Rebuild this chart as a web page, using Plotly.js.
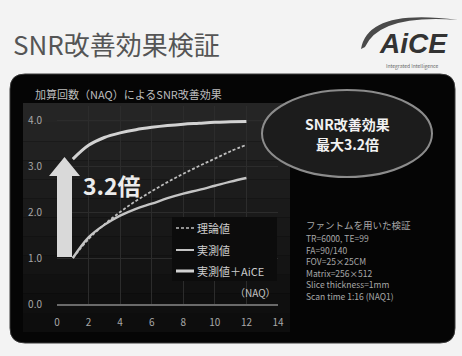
<!DOCTYPE html>
<html><head><meta charset="utf-8">
<script src="https://cdn.plot.ly/plotly-3.0.1.min.js"></script>
<style>html,body{margin:0;padding:0;background:#f3f3f3;}#chart{width:462px;height:356px;}</style>
</head><body><div id="chart"></div>
<script>
// ---- data ----
const NAQ = [1,2,3,4,5,6,7,8,9,10,11,12];
const theory = [1.0,1.41,1.73,2.0,2.24,2.45,2.65,2.83,3.0,3.16,3.32,3.46];
const measured = [1.0,1.45,1.72,1.92,2.07,2.18,2.3,2.4,2.48,2.57,2.66,2.74];
const measuredAiCE = [3.15,3.45,3.62,3.72,3.79,3.84,3.88,3.91,3.93,3.95,3.96,3.97];
const seriesNames = ['理論値','実測値','実測値＋AiCE'];
const xTicks = [0,2,4,6,8,10,12,14];
const yTicks = [0,1,2,3,4];
const titleText = 'SNR改善効果検証';
const chartSubtitle = '加算回数（NAQ）によるSNR改善効果';
const gainText = '3.2倍';
const calloutLines = ['SNR改善効果','最大3.2倍'];
const conditionLines = ['ファントムを用いた検証','TR=6000, TE=99','FA=90/140','FOV=25×25CM','Matrix=256×512','Slice thickness=1mm','Scan time 1:16 (NAQ1)'];

(function(){
const W = 462, H = 356;
const fx = x => x / W, fy = y => 1 - y / H;
const FONT = '"Noto Sans CJK JP", "Noto Sans", sans-serif';

function poly(pts){ return 'M' + pts.map(p => fx(p[0]) + ',' + fy(p[1])).join('L') + 'Z'; }
function roundRect(x0,y0,x1,y1,r){
  const p = (x,y) => fx(x)+','+fy(y);
  return 'M'+p(x0+r,y0)+'L'+p(x1-r,y0)+'Q'+p(x1,y0)+' '+p(x1,y0+r)+'L'+p(x1,y1-r)+'Q'+p(x1,y1)+' '+p(x1-r,y1)+
         'L'+p(x0+r,y1)+'Q'+p(x0,y1)+' '+p(x0,y1-r)+'L'+p(x0,y0+r)+'Q'+p(x0,y0)+' '+p(x0+r,y0)+'Z';
}

const traces = [
  {x: NAQ, y: theory, name: seriesNames[0], mode: 'lines', line: {color: '#bdbdbd', width: 1.8, dash: '3px,2px', shape: 'spline'}},
  {x: NAQ, y: measured, name: seriesNames[1], mode: 'lines', line: {color: '#c4c4c4', width: 2.4, shape: 'spline'}},
  {x: NAQ, y: measuredAiCE, name: seriesNames[2], mode: 'lines', line: {color: '#d2d2d2', width: 3, shape: 'spline'}}
];

const shapes = [];
shapes.push({type:'path', xref:'paper', yref:'paper', layer:'below', path: roundRect(10,74,455,343,15), fillcolor:'#050505', line:{color:'#3a3a3a', width:1}});
const bands = 12, bandTop = 103, bandBot = 332;
for (let i = 0; i < bands; i++){
  const v = Math.round(0x25 - i * (0x25 - 0x0d) / (bands - 1));
  const c = 'rgb(' + v + ',' + v + ',' + v + ')';
  const y0 = bandTop + (bandBot - bandTop) * i / bands, y1 = bandTop + (bandBot - bandTop) * (i + 1) / bands;
  shapes.push({type:'rect', xref:'paper', yref:'paper', layer:'below', x0: fx(23), x1: fx(290), y0: fy(y1), y1: fy(y0), fillcolor: c, line:{width:0}});
}
shapes.push({type:'rect', xref:'paper', yref:'paper', layer:'above', x0: fx(172), x1: fx(277), y0: fy(281), y1: fy(217), fillcolor:'#0c0c0c', line:{width:0}});
shapes.push({type:'line', xref:'paper', yref:'paper', x0: fx(176), x1: fx(194), y0: fy(228), y1: fy(228), line:{color:'#bdbdbd', width:1.5, dash:'3px,2px'}});
shapes.push({type:'line', xref:'paper', yref:'paper', x0: fx(176), x1: fx(194), y0: fy(250), y1: fy(250), line:{color:'#c4c4c4', width:2}});
shapes.push({type:'line', xref:'paper', yref:'paper', x0: fx(176), x1: fx(194), y0: fy(271), y1: fy(271), line:{color:'#d2d2d2', width:3}});
shapes.push({type:'path', xref:'paper', yref:'paper', layer:'above', path: poly([[57,257],[72,257],[72,176],[80,176],[64.5,157],[49,176],[57,176]]), fillcolor:'#d9d9d9', line:{width:0}});
shapes.push({type:'circle', xref:'paper', yref:'paper', x0: fx(262), x1: fx(432), y0: fy(177), y1: fy(90), fillcolor:'#1c1c1c', line:{color:'#8c8c8c', width:2}});
shapes.push({type:'path', xref:'paper', yref:'paper', path: 'M'+fx(361)+','+fy(49)+'Q'+fx(368)+','+fy(8)+' '+fx(458)+','+fy(20)+'Q'+fx(380)+','+fy(14)+' '+fx(365)+','+fy(47)+'Z', fillcolor:'#4a4a4a', line:{width:0}});

const ann = [];
function T(text, x, y, size, color, opts){
  ann.push(Object.assign({text: text, xref:'paper', yref:'paper', x: fx(x), y: fy(y), xanchor:'left', yanchor:'middle', showarrow:false, font:{family: FONT, size: size, color: color}}, opts || {}));
}
T(titleText, 11, 44, 26, '#555555');
T('<b><i>AiCE</i></b>', 413, 44, 28, '#333333', {xanchor:'center', font:{family:'"Liberation Sans", Arial, sans-serif', size:28, color:'#333'}});
T('Integrated Intelligence', 412, 66, 5, '#666666', {xanchor:'center'});
T(chartSubtitle, 33, 94, 11, '#bdbdbd');
T('<b>' + gainText + '</b>', 81, 185, 23, '#ececec');
T('<b>' + calloutLines[0] + '</b>', 347, 124, 14, '#f2f2f2', {xanchor:'center'});
T('<b>' + calloutLines[1] + '</b>', 347, 144, 14, '#f2f2f2', {xanchor:'center'});
T(seriesNames[0], 195, 228, 11, '#cccccc');
T(seriesNames[1], 195, 250, 11, '#cccccc');
T(seriesNames[2], 195, 271, 11, '#cccccc');
T('（NAQ）', 278, 292, 10, '#c4c4c4', {xanchor:'right'});
const condY = [225, 238, 249.5, 261, 272.5, 284, 296];
conditionLines.forEach((s, i) => T(s, 304, condY[i], i === 0 ? 9.5 : 8.5, '#a8a8a8'));

const layout = {
  width: W, height: H,
  margin: {l:0, r:0, t:0, b:0, pad:0},
  paper_bgcolor: '#f3f3f3',
  plot_bgcolor: 'rgba(0,0,0,0)',
  showlegend: false,
  font: {family: FONT, color: '#aaaaaa'},
  xaxis: {domain: [fx(57), fx(278)], range: [0, 14], tickvals: xTicks, ticktext: xTicks.map(String),
          showgrid: true, gridcolor: '#2c2c2c', gridwidth: 1, zeroline: false,
          showline: true, linecolor: '#6a6a6a', linewidth: 1.5, ticks: '', ticklabelstandoff: 8,
          tickfont: {family: FONT, size: 10, color: '#a8a8a8'}, fixedrange: true},
  yaxis: {domain: [fy(304), fy(304 - 4.3 * 46)], range: [0, 4.3], tickvals: yTicks, ticktext: yTicks.map(v => v.toFixed(1)),
          showgrid: true, gridcolor: '#2c2c2c', gridwidth: 1, zeroline: false, showline: false,
          ticks: '', ticklabelstandoff: 14, tickfont: {family: FONT, size: 10, color: '#a8a8a8'}, fixedrange: true},
  shapes: shapes,
  annotations: ann
};
Plotly.newPlot('chart', traces, layout, {displayModeBar: false, staticPlot: true});
})();
</script></body></html>
